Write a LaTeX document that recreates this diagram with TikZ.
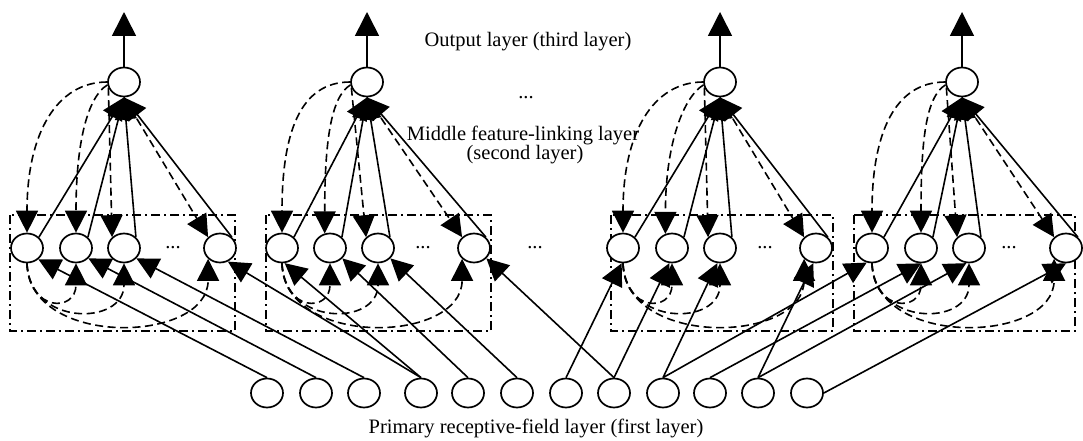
\documentclass[tikz,border=0pt]{standalone}
\usepackage{fontspec}
\setmainfont{Liberation Serif}
\usetikzlibrary{shapes.geometric,arrows.meta}
\begin{document}
\begin{tikzpicture}[x=1pt,y=-1pt,
  neuron/.style={draw,ellipse,minimum width=32pt,minimum height=29pt,inner sep=0pt,line width=1.7pt,fill=white},
  conn/.style={line width=1.6pt,-{Triangle[length=22pt,width=22pt]}},
  upconn/.style={line width=1.6pt,-{Triangle[length=24pt,width=24pt]}},
  fb/.style={conn,dash pattern=on 8pt off 4.5pt},
  grp/.style={line width=1.6pt,dash pattern=on 9pt off 4pt on 2pt off 4pt},
  lbl/.style={font=\fontsize{20.5}{23}\selectfont,inner sep=0pt}]
\useasboundingbox (0,0) rectangle (1083,441);
% bottom (first) layer
\foreach \i/\x in {1/267,2/316,3/364,4/421,5/468,6/517,7/566,8/614,9/663,10/710,11/758,12/807}
  \node[neuron] (b\i) at (\x,393) {};
% groups
\foreach \g/\o/\a/\b/\c/\d/\l/\r/\m/\q in {1/124/27/76/124/220/10/235/173/90,2/367/282/330/378/474/266/491/423/110,3/720/623/672/720/816/611/833/765/115,4/962/872/921/969/1066/854/1075/1009/90}{
  \draw[grp] (\l,215) rectangle (\r,331);
  \node[neuron] (o\g) at (\o,82) {};
  \coordinate (t\g) at (\o,12);
  \node[neuron] (m\g-1) at (\a,248) {};
  \node[neuron] (m\g-2) at (\b,248) {};
  \node[neuron] (m\g-3) at (\c,248) {};
  \node[neuron] (m\g-4) at (\d,248) {};
  \node[lbl] (d\g) at (\m,248) {...};
  \draw[upconn] (o\g.north) -- (t\g);
  \foreach \k in {1,2,3,4}
    \draw[conn] (m\g-\k.north east) -- (o\g.south);
  \draw[fb] (o\g.west) .. controls +(-50,0) and +(0,-100) .. (m\g-1.north);
  \draw[fb] (o\g.190) .. controls +(-20,12) and +(0,-90) .. (m\g-2.\q);
  \draw[fb] (o\g.200) -- (m\g-3.north west);
  \draw[fb] (o\g.south) -- (m\g-4.north west);
  \draw[fb] (m\g-1.south) .. controls +(2,49) and +(0,49) .. (m\g-2.south);
  \draw[fb] (m\g-1.south) .. controls +(2,63) and +(0,63) .. (m\g-3.south);
  \draw[fb] (m\g-1.south) .. controls +(2,85) and +(0,85) .. (m\g-4.south west);
}
\node[lbl] (d0) at (535,248) {...};
% feed-forward connections first -> middle layer
\draw[conn] (b1.north) -- (m1-1.-45);
\draw[conn] (b2.north) -- (m1-2.-40);
\draw[conn] (b3.north) -- (m1-3.-40);
\draw[conn] (b4.north) -- (m1-4.-60);
\draw[conn] (b4.north) -- (m2-1.-80);
\draw[conn] (b5.north) -- (m2-2.-40);
\draw[conn] (b6.north) -- (m2-3.-40);
\draw[conn] (b8.north) -- (m2-4.-40);
\draw[conn] (b7.north) -- (m3-1.-95);
\draw[conn] (b8.north) -- (m3-2.-100);
\draw[conn] (b9.north) -- (m3-3.-100);
\draw[conn] (b11.north) -- (m3-4.-100);
\draw[conn] (b9.north) -- (m4-1.-110);
\draw[conn] (b10.north) -- (m4-2.-90);
\draw[conn] (b11.north) -- (m4-3.-100);
\draw[conn] (b12.east) -- (m4-4.-90);
% labels
\node[lbl] (l1) at (528,42) {Output layer (third layer)};
\node[lbl] (l2) at (526,98) {...};
\node[lbl] (l3) at (523,135) {Middle feature-linking layer};
\node[lbl] (l4) at (525,155) {(second layer)};
\node[lbl] (l5) at (536,428) {Primary receptive-field layer (first layer)};
\end{tikzpicture}
\end{document}
